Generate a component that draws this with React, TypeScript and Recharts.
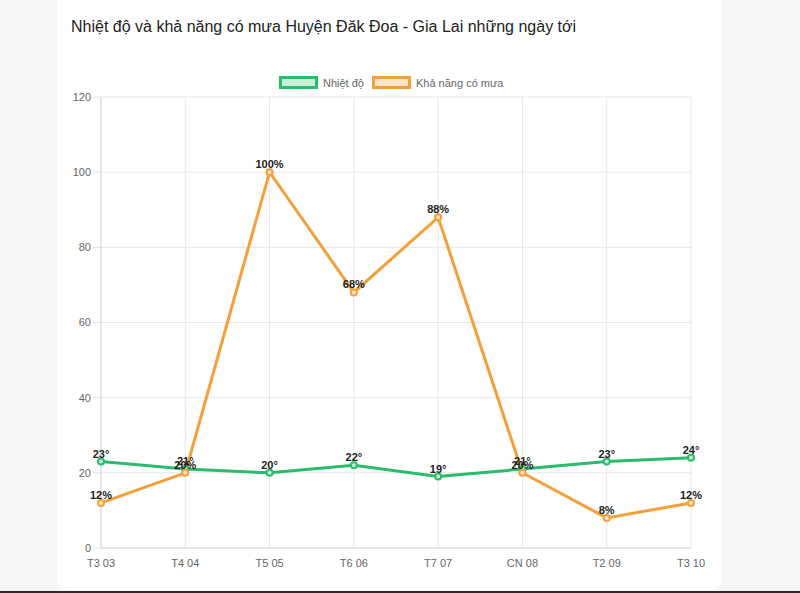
import React from 'react';
import { LineChart, Line, XAxis, YAxis, CartesianGrid, LabelList } from 'recharts';

const categories = ['T3 03', 'T4 04', 'T5 05', 'T6 06', 'T7 07', 'CN 08', 'T2 09', 'T3 10'];
const temperature = [23, 21, 20, 22, 19, 21, 23, 24];
const rainChance = [12, 20, 100, 68, 88, 20, 8, 12];
const yTicks = [0, 20, 40, 60, 80, 100, 120];
const seriesNames = ['Nhiệt độ', 'Khả năng có mưa'];
const title = 'Nhiệt độ và khả năng có mưa Huyện Đăk Đoa - Gia Lai những ngày tới';

const GREEN = '#2bbb6b';
const GREEN_LIGHT = '#c8f0d8';
const ORANGE = '#f4a03a';
const ORANGE_LIGHT = '#fde6c8';

const data = categories.map((c, i) => ({ day: c, temp: temperature[i], rain: rainChance[i] }));

const FONT = '"Liberation Sans", Arial, Helvetica, sans-serif';

export default function App() {
  const legendItems = [
    { name: seriesNames[0], stroke: GREEN, fill: GREEN_LIGHT },
    { name: seriesNames[1], stroke: ORANGE, fill: ORANGE_LIGHT },
  ];
  return (
    <div style={{ position: 'absolute', left: 0, top: 0, width: 800, height: 593, background: '#f4f6f7', overflow: 'hidden', fontFamily: FONT }}>
      <div style={{ position: 'absolute', left: 57, top: -20, width: 665, height: 610, background: '#ffffff', borderRadius: 10 }} />
      <div style={{ position: 'absolute', left: 0, top: 591, width: 800, height: 2, background: '#2a2a2a' }} />
      <div style={{ position: 'absolute', left: 71, top: 18, fontSize: 16, color: '#222', whiteSpace: 'nowrap', lineHeight: 'normal' }}>{title}</div>
      <div style={{ position: 'absolute', left: 279, top: 76, display: 'flex', alignItems: 'center', fontSize: 11, color: '#666', whiteSpace: 'nowrap' }}>
        {legendItems.map((it, i) => (
          <div key={it.name} style={{ display: 'flex', alignItems: 'center', marginRight: i === 0 ? 8 : 0 }}>
            <div style={{ width: 33, height: 7, border: `3px solid ${it.stroke}`, background: it.fill, marginRight: 5 }} />
            <span>{it.name}</span>
          </div>
        ))}
      </div>
      <div style={{ position: 'absolute', left: 0, top: 0 }}>
        <LineChart width={800} height={593} data={data} margin={{ top: 97, right: 109, bottom: 15, left: 61 }}>
          <CartesianGrid stroke="#e6e6e6" strokeWidth={1} />
          <XAxis
            dataKey="day"
            height={30}
            tickLine={false}
            tickSize={0}
            tickMargin={11}
            axisLine={{ stroke: '#d9d9d9' }}
            tick={{ fill: '#666', fontSize: 11 }}
            interval={0}
          />
          <YAxis
            width={40}
            domain={[0, 120]}
            ticks={yTicks}
            interval={0}
            tickSize={8}
            tickMargin={2}
            tickLine={{ stroke: '#e0e0e0' }}
            axisLine={{ stroke: '#d9d9d9' }}
            tick={{ fill: '#666', fontSize: 11 }}
          />
          <Line
            dataKey="temp"
            name={seriesNames[0]}
            stroke={GREEN}
            strokeWidth={3}
            dot={{ r: 3, fill: GREEN_LIGHT, stroke: GREEN, strokeWidth: 2 }}
            isAnimationActive={false}
            type="linear"
          >
            <LabelList dataKey="temp" position="top" offset={4} formatter={(v: any) => `${v}°`} fill="#222" stroke="none" fontSize={11} fontWeight="bold" />
          </Line>
          <Line
            dataKey="rain"
            name={seriesNames[1]}
            stroke={ORANGE}
            strokeWidth={3}
            dot={{ r: 3, fill: ORANGE_LIGHT, stroke: ORANGE, strokeWidth: 2 }}
            isAnimationActive={false}
            type="linear"
          >
            <LabelList dataKey="rain" position="top" offset={4} formatter={(v: any) => `${v}%`} fill="#222" stroke="none" fontSize={11} fontWeight="bold" />
          </Line>
        </LineChart>
      </div>
    </div>
  );
}
